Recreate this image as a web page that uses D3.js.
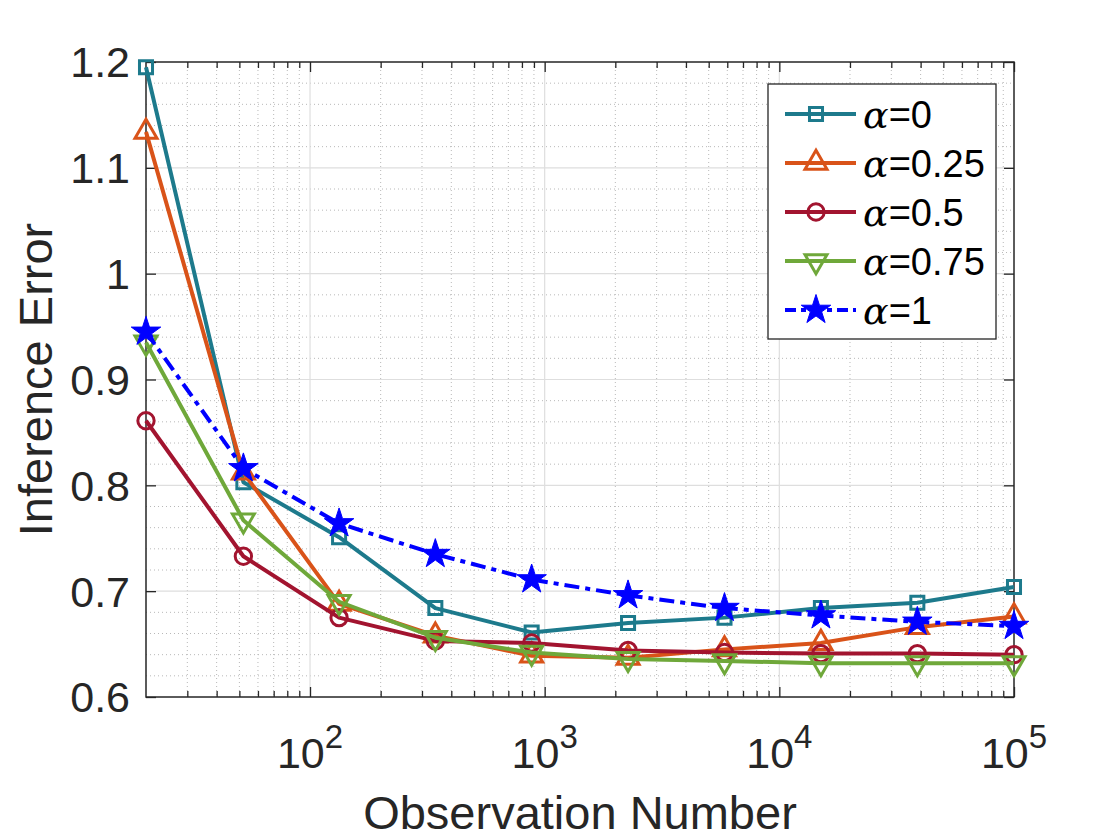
<!DOCTYPE html>
<html lang="en">
<head>
<meta charset="UTF-8">
<title>Inference Error vs Observation Number</title>
<script src="https://d3js.org/d3.v7.min.js"></script>
<style>
  body { margin: 0; background: #fff; }
  svg { display: block; font-family: "Liberation Sans", Arial, sans-serif; }
</style>
</head>
<body>
<div id="chart"></div>
<script>
// observation numbers (log-spaced)
const obsNumbers = [20, 52, 133, 342, 880, 2266, 5838, 15036, 38730, 100000];

// inference error per alpha
const errAlpha0   = [1.195, 0.803, 0.751, 0.684, 0.661, 0.670, 0.675, 0.684, 0.689, 0.704];
const errAlpha025 = [1.134, 0.812, 0.688, 0.658, 0.639, 0.637, 0.645, 0.651, 0.666, 0.676];
const errAlpha05  = [0.861, 0.733, 0.675, 0.653, 0.651, 0.644, 0.642, 0.641, 0.641, 0.640];
const errAlpha075 = [0.935, 0.767, 0.690, 0.656, 0.642, 0.636, 0.634, 0.632, 0.632, 0.632];
const errAlpha1   = [0.945, 0.816, 0.764, 0.735, 0.711, 0.696, 0.684, 0.677, 0.671, 0.667];

const seriesNames = ["0", "0.25", "0.5", "0.75", "1"];
const xTickValues = [100, 1000, 10000, 100000];
const yTickValues = [0.6, 0.7, 0.8, 0.9, 1.0, 1.1, 1.2];

const series = [
  { name: seriesNames[0], values: errAlpha0,   color: "#1d7a8c", marker: "square" },
  { name: seriesNames[1], values: errAlpha025, color: "#d95319", marker: "triUp" },
  { name: seriesNames[2], values: errAlpha05,  color: "#a2142f", marker: "circle" },
  { name: seriesNames[3], values: errAlpha075, color: "#6fa83a", marker: "triDown" },
  { name: seriesNames[4], values: errAlpha1,   color: "#0000ff", marker: "star", dash: "15,6,5,6" }
];

const W = 1120, H = 840;
const box = { left: 146, right: 1014, top: 62, bottom: 697 };
const ink = "#262626";

const x = d3.scaleLog().domain([20, 100000]).range([box.left, box.right]);
const y = d3.scaleLinear().domain([0.6, 1.2]).range([box.bottom, box.top]);

const svg = d3.select("#chart").append("svg")
  .attr("width", W).attr("height", H);

// minor positions
const xMinor = [];
[10, 100, 1000, 10000].forEach(d => {
  for (let k = 2; k <= 9; k++) {
    const v = d * k;
    if (v > 20 && v < 100000) xMinor.push(v);
  }
});
const yMinor = d3.range(0, 31).map(i => +(0.6 + i * 0.02).toFixed(2))
  .filter(v => Math.round(v * 100) % 10 !== 0 && v > 0.6 && v < 1.2);

// grid
const grid = svg.append("g");
grid.selectAll(".xminor").data(xMinor).enter().append("line")
  .attr("x1", d => x(d)).attr("x2", d => x(d))
  .attr("y1", box.top).attr("y2", box.bottom)
  .attr("stroke", "#b8b8b8").attr("stroke-width", 1).attr("stroke-dasharray", "1,3");
grid.selectAll(".yminor").data(yMinor).enter().append("line")
  .attr("x1", box.left).attr("x2", box.right)
  .attr("y1", d => y(d)).attr("y2", d => y(d))
  .attr("stroke", "#b8b8b8").attr("stroke-width", 1).attr("stroke-dasharray", "1,3");
grid.selectAll(".xmajor").data(xTickValues.slice(0, 3)).enter().append("line")
  .attr("x1", d => x(d)).attr("x2", d => x(d))
  .attr("y1", box.top).attr("y2", box.bottom)
  .attr("stroke", "#dedede").attr("stroke-width", 1.2);
grid.selectAll(".ymajor").data(yTickValues.slice(1, 6)).enter().append("line")
  .attr("x1", box.left).attr("x2", box.right)
  .attr("y1", d => y(d)).attr("y2", d => y(d))
  .attr("stroke", "#dedede").attr("stroke-width", 1.2);

// axes (ticks pointing inward)
function styleAxis(g) {
  g.select(".domain").remove();
  g.selectAll("line").attr("stroke", ink).attr("stroke-width", 1.3);
}
svg.append("g").attr("transform", `translate(0,${box.bottom})`)
  .call(d3.axisBottom(x).tickValues(xTickValues).tickSize(-10).tickFormat(""))
  .call(styleAxis);
svg.append("g").attr("transform", `translate(0,${box.bottom})`)
  .call(d3.axisBottom(x).tickValues(xMinor).tickSize(-6).tickFormat(""))
  .call(styleAxis);
svg.append("g").attr("transform", `translate(0,${box.top})`)
  .call(d3.axisTop(x).tickValues(xTickValues).tickSize(-10).tickFormat(""))
  .call(styleAxis);
svg.append("g").attr("transform", `translate(0,${box.top})`)
  .call(d3.axisTop(x).tickValues(xMinor).tickSize(-6).tickFormat(""))
  .call(styleAxis);
svg.append("g").attr("transform", `translate(${box.left},0)`)
  .call(d3.axisLeft(y).tickValues(yTickValues).tickSize(-10).tickFormat(""))
  .call(styleAxis);
svg.append("g").attr("transform", `translate(${box.right},0)`)
  .call(d3.axisRight(y).tickValues(yTickValues).tickSize(-10).tickFormat(""))
  .call(styleAxis);

// box
svg.append("rect").attr("x", box.left).attr("y", box.top)
  .attr("width", box.right - box.left).attr("height", box.bottom - box.top)
  .attr("fill", "none").attr("stroke", ink).attr("stroke-width", 1.5);

// tick labels
svg.selectAll(".ylab").data(yTickValues).enter().append("text")
  .attr("x", box.left - 16).attr("y", d => y(d)).attr("dy", "0.36em")
  .attr("text-anchor", "end").attr("font-size", 43).attr("fill", ink)
  .text(d => d === 1 ? "1" : d3.format(".1f")(d));

const xl = svg.selectAll(".xlab").data(xTickValues).enter().append("text")
  .attr("x", d => x(d)).attr("y", 768)
  .attr("text-anchor", "middle").attr("fill", ink);
xl.append("tspan").attr("font-size", 43).text("10");
xl.append("tspan").attr("font-size", 33).attr("dy", -20)
  .text(d => String(Math.round(Math.log10(d))));

// axis titles
svg.append("text").attr("x", (box.left + box.right) / 2).attr("y", 829)
  .attr("text-anchor", "middle").attr("font-size", 47).attr("fill", ink)
  .text("Observation Number");
svg.append("text")
  .attr("transform", `translate(52,${(box.top + box.bottom) / 2}) rotate(-90)`)
  .attr("text-anchor", "middle").attr("font-size", 47).attr("fill", ink)
  .text("Inference Error");

// markers
function markerPath(type) {
  if (type === "square") return d3.symbol(d3.symbolSquare, 170)();
  if (type === "circle") return d3.symbol(d3.symbolCircle, 210)();
  if (type === "triUp" || type === "triDown") return d3.symbol(d3.symbolTriangle, 210)();
  return d3.symbol(d3.symbolStar, 270)();
}
function drawMarker(g, s, cx, cy) {
  const rot = s.marker === "triDown" ? " rotate(180)" : "";
  g.append("path").attr("d", markerPath(s.marker))
    .attr("transform", `translate(${cx},${cy})${rot}`)
    .attr("fill", s.marker === "star" ? s.color : "none")
    .attr("stroke", s.color).attr("stroke-width", s.marker === "star" ? 1 : 3);
}

const line = d3.line().x(d => x(d[0])).y(d => y(d[1]));
series.forEach(s => {
  const pts = obsNumbers.map((n, i) => [n, s.values[i]]);
  const g = svg.append("g");
  g.append("path").datum(pts).attr("d", line)
    .attr("fill", "none").attr("stroke", s.color).attr("stroke-width", 4)
    .attr("stroke-dasharray", s.dash || null).attr("stroke-linejoin", "round");
  pts.forEach(p => drawMarker(g, s, x(p[0]), y(p[1])));
});

// legend
const lg = svg.append("g");
lg.append("rect").attr("x", 768).attr("y", 84).attr("width", 228).attr("height", 255)
  .attr("fill", "#fff").attr("stroke", ink).attr("stroke-width", 1.3);
series.forEach((s, i) => {
  const ly = 114 + i * 49;
  lg.append("line").attr("x1", 785).attr("x2", 856).attr("y1", ly).attr("y2", ly)
    .attr("stroke", s.color).attr("stroke-width", 4)
    .attr("stroke-dasharray", s.dash ? "11,5,5,5" : null);
  drawMarker(lg, s, 816, ly);
  const t = lg.append("text").attr("x", 863).attr("y", ly).attr("dy", "0.36em")
    .attr("font-size", 38).attr("fill", "#000");
  t.append("tspan").attr("font-family", "'DejaVu Serif', serif").attr("font-style", "italic").text("α");
  t.append("tspan").text("=" + s.name);
});
</script>
</body>
</html>
